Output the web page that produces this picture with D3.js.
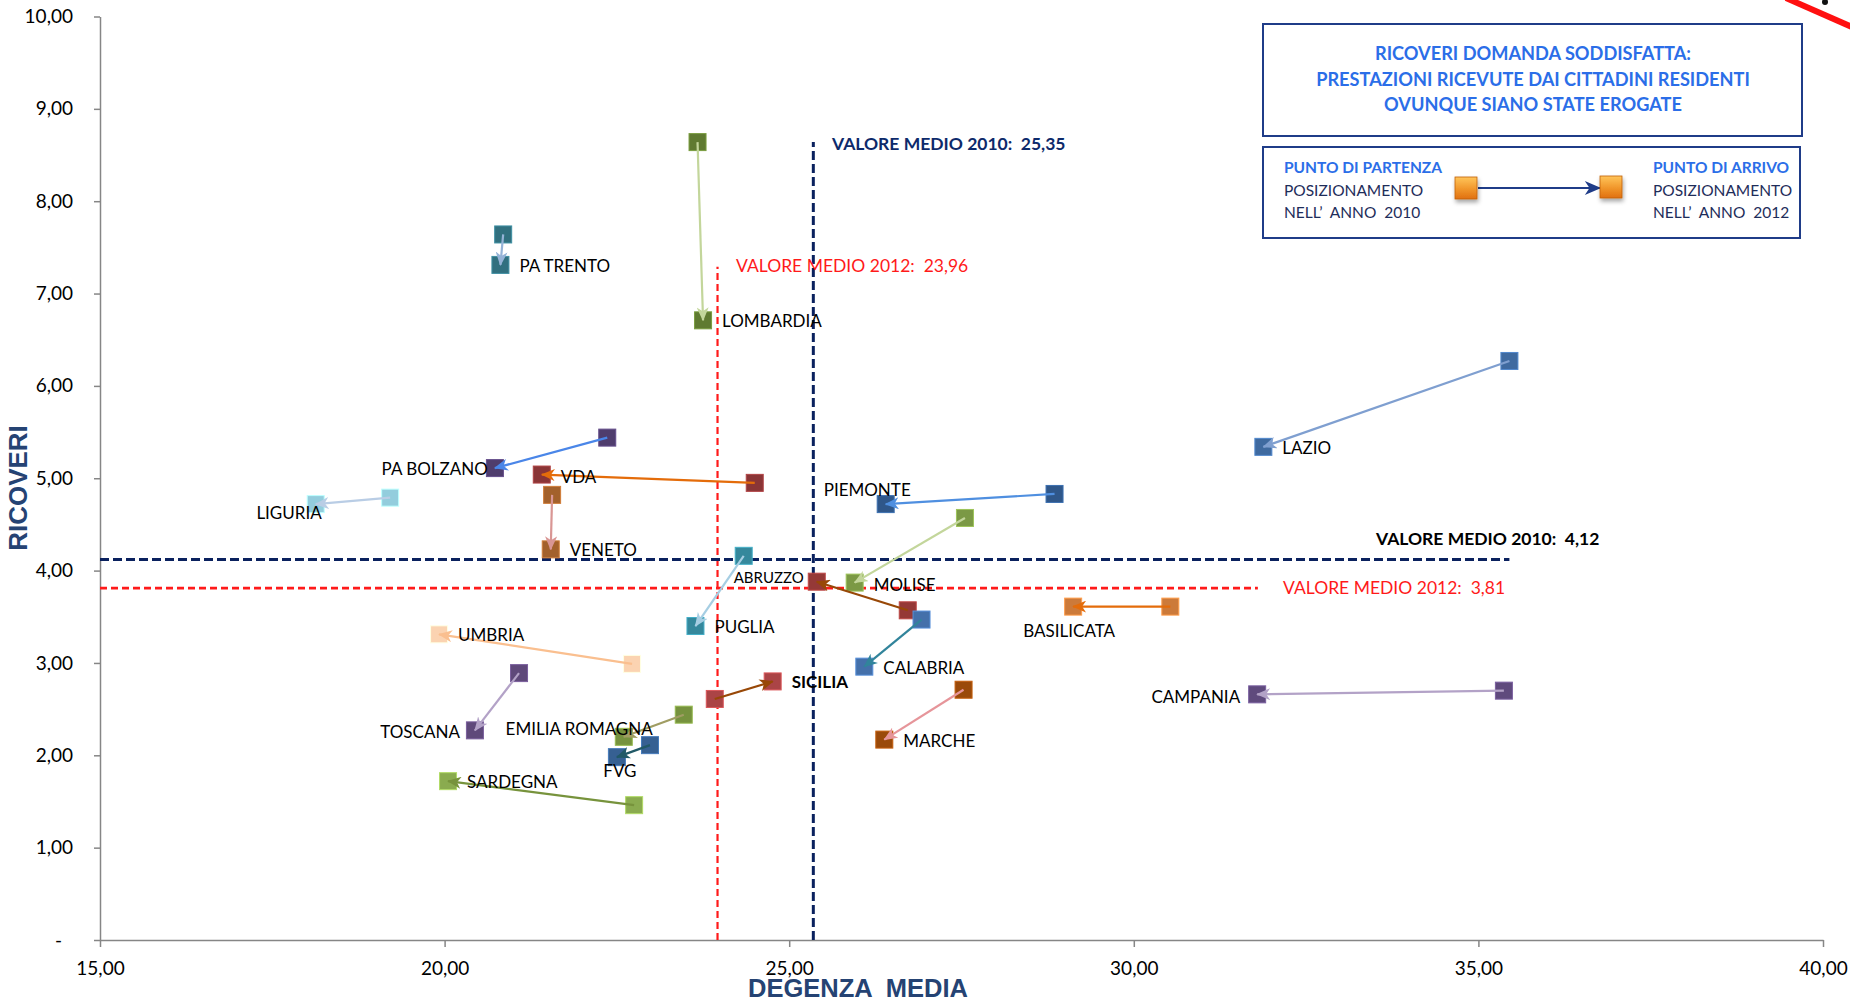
<!DOCTYPE html>
<html><head><meta charset="utf-8">
<script src="https://cdn.jsdelivr.net/npm/d3@7"></script>
<style>
html,body{margin:0;padding:0;background:#fff;}
svg{display:block;}
</style></head><body>
<svg id="chart" width="1850" height="1003"></svg>
<script>
// ---------------- DATA ----------------
const regions = ["PA TRENTO","LOMBARDIA","LAZIO","PA BOLZANO","VDA","LIGURIA","VENETO","PIEMONTE","MOLISE","ABRUZZO","PUGLIA","CALABRIA","BASILICATA","UMBRIA","SICILIA","CAMPANIA","MARCHE","TOSCANA","EMILIA ROMAGNA","FVG","SARDEGNA"];
const degenza2010 = [20.85,23.67,35.45,22.36,24.50,19.21,21.56,28.85,27.55,26.72,24.34,26.92,30.53,22.72,23.92,35.37,27.53,21.08,23.47,22.98,22.75];
const ricoveri2010 = [7.64,8.64,6.27,5.44,4.95,4.79,4.82,4.83,4.57,3.57,4.16,3.47,3.61,2.99,2.61,2.70,2.71,2.89,2.44,2.11,1.46];
const degenza2012 = [20.81,23.75,31.88,20.73,21.41,18.13,21.54,26.40,25.95,25.40,23.64,26.09,29.12,19.92,24.76,31.79,26.38,20.44,22.60,22.50,20.05];
const ricoveri2012 = [7.31,6.71,5.34,5.11,5.04,4.72,4.23,4.72,3.87,3.88,3.40,2.96,3.61,3.31,2.80,2.66,2.17,2.27,2.20,1.98,1.72];

const xTicks = [15,20,25,30,35,40];
const yTicks = [0,1,2,3,4,5,6,7,8,9,10];

const mediaYears = ["2010","2012"];
const mediaDegenza = [25.35,23.96];
const mediaRicoveri = [4.12,3.81];
const mediaDegenzaTop = [8.64,7.29];      // upper end of the vertical mean lines (ricoveri)
const mediaRicoveriEnd = [35.45,31.80];   // right end of the horizontal mean lines (degenza)

const titleLines = ["RICOVERI DOMANDA SODDISFATTA:","PRESTAZIONI RICEVUTE DAI CITTADINI RESIDENTI","OVUNQUE SIANO STATE EROGATE"];
const legendStart = ["PUNTO DI PARTENZA","POSIZIONAMENTO","NELL\u2019  ANNO  2010"];
const legendEnd = ["PUNTO DI ARRIVO","POSIZIONAMENTO","NELL\u2019  ANNO  2012"];

// ---------------- STYLE ----------------
const markerColors = ["#31707f","#5f7a31","#3f6aa0","#4f3d6d","#8a3536","#93cddd","#a3612c","#2f578a","#7b9945","#953937","#35889c","#4470aa","#cc7a3a","#fbd3b1","#ab4446","#5f4a7d","#9a4a0a","#5f497a","#76923e","#366092","#8aab4f"];
const arrowColors  = ["#95b3d7","#c3d69b","#7f9fd0","#4a86e8","#e46c0a","#b9cde5","#d99694","#4f8fe0","#c3d69b","#984807","#a6cee3","#31849b","#e46c0a","#fabf8f","#984807","#b3a2c7","#e6959a","#b3a2c7","#a09d63","#215967","#77933c"];
// label layout: [dx, dy, anchor, fontSize, weight]
const labelLayout = [
  [19,1,"start",17,400],[19,1,"start",17,400],[19,1,"start",17,400],[-7,1,"end",17,400],
  [19,2,"start",17,400],[6,9,"end",17,400],[19,1,"start",17,400],[-62,-14,"start",17,400],
  [19,2,"start",17,400],[-13,-4,"end",15,400],[19,1,"start",17,400],[19,1,"start",17,400],
  [-4,24,"middle",17,400],[19,1,"start",17,400],[19,1,"start",17,700],[-17,3,"end",17,400],
  [19,1,"start",17,400],[-15,2,"end",17,400],[29,-8,"end",17,400],[3,14,"middle",17,400],
  [19,1,"start",17,400]
];

const FONT = "Lato, 'Open Sans', sans-serif";
const svg = d3.select("#chart");
const x = d3.scaleLinear().domain([15,40]).range([100,1823]);
const y = d3.scaleLinear().domain([0,10]).range([940,16.5]);
const fmt = d => d === 0 ? "-" : d3.format(".2f")(d).replace(".", ",");

// defs
const defs = svg.append("defs");
const uniq = Array.from(new Set(arrowColors));
uniq.forEach((c,i) => {
  defs.append("marker").attr("id","arr"+i).attr("markerUnits","userSpaceOnUse")
    .attr("viewBox","0 0 14 12").attr("markerWidth",14).attr("markerHeight",12)
    .attr("refX",13).attr("refY",6).attr("orient","auto")
    .append("path").attr("d","M0,0 L14,6 L0,12 L4,6 Z").attr("fill",c);
});
defs.append("marker").attr("id","arrLegend").attr("markerUnits","userSpaceOnUse")
  .attr("viewBox","0 0 14 12").attr("markerWidth",18).attr("markerHeight",14)
  .attr("refX",13).attr("refY",6).attr("orient","auto")
  .append("path").attr("d","M0,0 L14,6 L0,12 L4,6 Z").attr("fill","#1f3c88");
const grad = defs.append("linearGradient").attr("id","og").attr("x1",0).attr("y1",0).attr("x2",0).attr("y2",1);
grad.append("stop").attr("offset","0%").attr("stop-color","#ffc55a");
grad.append("stop").attr("offset","50%").attr("stop-color","#f29a2e");
grad.append("stop").attr("offset","100%").attr("stop-color","#e07010");
const sh = defs.append("filter").attr("id","shadow").attr("x","-50%").attr("y","-50%").attr("width","200%").attr("height","200%");
sh.append("feDropShadow").attr("dx",1).attr("dy",3).attr("stdDeviation",2).attr("flood-color","#000").attr("flood-opacity",0.35);

// axes
const gy = svg.append("g").attr("transform",`translate(${x(15)},0)`)
  .call(d3.axisLeft(y).tickValues(yTicks).tickSize(6).tickSizeOuter(0).tickPadding(21).tickFormat(fmt));
const gx = svg.append("g").attr("transform",`translate(0,${y(0)})`)
  .call(d3.axisBottom(x).tickValues(xTicks).tickSize(7).tickSizeOuter(0).tickPadding(15).tickFormat(fmt));
[gx,gy].forEach(g => {
  g.selectAll("path.domain").attr("stroke","#868686").attr("stroke-width",1.5);
  g.selectAll(".tick line").attr("stroke","#868686").attr("stroke-width",1.5);
  g.selectAll("text").attr("font-family",FONT).attr("font-size",19).attr("fill","#000");
});
gy.selectAll(".tick text").filter(d => d === 0).attr("dx",-11);

// axis titles
svg.append("text").attr("transform",`translate(${27},${488}) rotate(-90)`)
  .attr("text-anchor","middle").attr("font-family","'Liberation Sans', Arial, sans-serif")
  .attr("font-weight",700).attr("font-size",26).attr("fill","#254373").text("RICOVERI");
svg.append("text").attr("x",858).attr("y",997).attr("xml:space","preserve").style("white-space","pre")
  .attr("text-anchor","middle").attr("font-family","'Liberation Sans', Arial, sans-serif")
  .attr("font-weight",700).attr("font-size",25.5).attr("fill","#254373").text("DEGENZA  MEDIA");

// mean lines
const meanColors = ["#0a215e","#ff1a1a"];
const meanDash = ["9,4","7,4"];
const meanW = [3,2.2];
const meanWH = [3,2.6];
mediaDegenza.forEach((v,i) => {
  svg.append("line").attr("x1",x(v)).attr("x2",x(v)).attr("y1",y(0)).attr("y2",y(mediaDegenzaTop[i]))
    .attr("stroke",meanColors[i]).attr("stroke-width",meanW[i]).attr("stroke-dasharray",meanDash[i]);
});
mediaRicoveri.forEach((v,i) => {
  svg.append("line").attr("x1",x(15)).attr("x2",x(mediaRicoveriEnd[i])).attr("y1",y(v)).attr("y2",y(v))
    .attr("stroke",meanColors[i]).attr("stroke-width",meanWH[i]).attr("stroke-dasharray",meanDash[i]);
});
// mean labels
const fmt2 = d => d3.format(".2f")(d).replace(".", ",");
const vLab = [[832,150,"#0d2a6b",700],[736,272,"#ff1a1a",400]];
mediaDegenza.forEach((v,i) => {
  svg.append("text").attr("x",vLab[i][0]).attr("y",vLab[i][1]).attr("font-family",FONT)
    .attr("font-size",17.5).attr("font-weight",vLab[i][3]).attr("fill",vLab[i][2])
    .attr("xml:space","preserve").style("white-space","pre").text(`VALORE MEDIO ${mediaYears[i]}:  ${fmt2(v)}`);
});
const hLab = [[1376,545,"#000",700],[1283,594,"#ff1a1a",400]];
mediaRicoveri.forEach((v,i) => {
  svg.append("text").attr("x",hLab[i][0]).attr("y",hLab[i][1]).attr("font-family",FONT)
    .attr("font-size",17.5).attr("font-weight",hLab[i][3]).attr("fill",hLab[i][2])
    .attr("xml:space","preserve").style("white-space","pre").text(`VALORE MEDIO ${mediaYears[i]}:  ${fmt2(v)}`);
});

// data
const data = regions.map((r,i) => ({r,i,x0:degenza2010[i],y0:ricoveri2010[i],x1:degenza2012[i],y1:ricoveri2012[i]}));
const S = 17;
const pts = svg.append("g");
data.forEach(d => {
  const c = markerColors[d.i];
  const st = d3.color(c).brighter(0.7).formatHex();
  [[d.x0,d.y0],[d.x1,d.y1]].forEach(p => {
    pts.append("rect").attr("x",x(p[0])-S/2).attr("y",y(p[1])-S/2).attr("width",S).attr("height",S)
      .attr("fill",c).attr("stroke",st).attr("stroke-width",1);
  });
});
const arrows = svg.append("g");
data.forEach(d => {
  const c = arrowColors[d.i];
  arrows.append("line").attr("x1",x(d.x0)).attr("y1",y(d.y0)).attr("x2",x(d.x1)).attr("y2",y(d.y1))
    .attr("stroke",c).attr("stroke-width",2.2).attr("marker-end",`url(#arr${uniq.indexOf(c)})`);
});
const labels = svg.append("g");
data.forEach(d => {
  const L = labelLayout[d.i];
  labels.append("text").attr("x",x(d.x1)+L[0]).attr("y",y(d.y1)+L[1]).attr("dy","0.35em")
    .attr("text-anchor",L[2]).attr("font-family",FONT).attr("font-size",L[3]).attr("font-weight",L[4])
    .attr("fill","#000").text(d.r);
});

// title box
svg.append("rect").attr("x",1263).attr("y",24).attr("width",539).attr("height",112)
  .attr("fill","#fff").attr("stroke","#1f3c88").attr("stroke-width",2);
titleLines.forEach((t,i) => {
  svg.append("text").attr("x",1533).attr("y",54 + i*25.5).attr("dy","0.35em").attr("text-anchor","middle")
    .attr("font-family",FONT).attr("font-weight",700).attr("font-size",18.2).attr("fill","#2b6ee8").text(t);
});
// legend box
svg.append("rect").attr("x",1263).attr("y",147).attr("width",537).attr("height",91)
  .attr("fill","#fff").attr("stroke","#1f3c88").attr("stroke-width",2);
[[legendStart,1284],[legendEnd,1653]].forEach(([arr,lx]) => {
  arr.forEach((t,i) => {
    svg.append("text").attr("x",lx).attr("y",168 + i*22.5).attr("dy","0.35em")
      .attr("font-family",FONT).attr("font-size",15.5).attr("font-weight",i===0?700:400)
      .attr("fill",i===0?"#2b6ee8":"#1e2d5a").attr("xml:space","preserve").style("white-space","pre").text(t);
  });
});
svg.append("line").attr("x1",1478).attr("y1",188).attr("x2",1600).attr("y2",188)
  .attr("stroke","#1f3c88").attr("stroke-width",2).attr("marker-end","url(#arrLegend)");
[[1466,188],[1611,187]].forEach(([cx,cy]) => {
  svg.append("rect").attr("x",cx-11).attr("y",cy-11).attr("width",22).attr("height",22)
    .attr("fill","url(#og)").attr("stroke","#c0600a").attr("stroke-width",0.8).attr("filter","url(#shadow)");
});

// decorative corner fragment
svg.append("line").attr("x1",1786).attr("y1",-2).attr("x2",1852).attr("y2",27)
  .attr("stroke","#ff1010").attr("stroke-width",6);
svg.append("circle").attr("cx",1825).attr("cy",2).attr("r",3).attr("fill","#111");
</script>
</body></html>
